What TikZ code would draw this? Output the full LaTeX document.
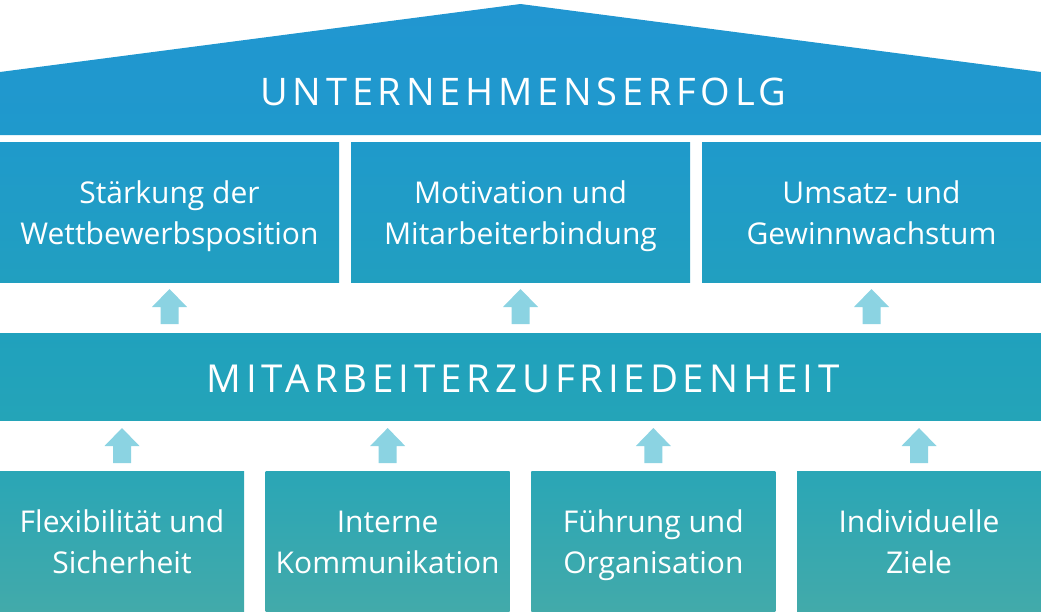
\documentclass[tikz,border=0pt]{standalone}
\usepackage{fontspec}
\setmainfont{Open Sans}
\newfontfamily\sperrfont[LetterSpace=12.5]{Open Sans}
\usetikzlibrary{positioning,calc}

\definecolor{dachoben}{HTML}{2196D1}
\definecolor{dachunten}{HTML}{1F99CC}
\definecolor{zieloben}{HTML}{1F9ACB}
\definecolor{zielunten}{HTML}{219FC0}
\definecolor{bandoben}{HTML}{20A1BD}
\definecolor{bandunten}{HTML}{24A4B8}
\definecolor{basisoben}{HTML}{2AA6B6}
\definecolor{basisunten}{HTML}{42AAAA}
\definecolor{pfeilfarbe}{HTML}{8BD3E2}

% zwei Zeilen, erste Grundlinie 8.5pt ueber der Mitte
\newcommand\zeilen[2]{\raisebox{0pt}[0pt][17pt]{\begin{tabular}[t]{@{}c@{}}#1\\#2\end{tabular}}}

\tikzset{
  kasten/.style={inner sep=0pt, outer sep=0pt, text=white,
    font=\fontsize{30}{41}\selectfont},
  ziel/.style={kasten, minimum width=339, minimum height=140,
    top color=zieloben, bottom color=zielunten},
  basis/.style={kasten, minimum width=244, minimum height=140,
    top color=basisoben, bottom color=basisunten},
  pfeil/.style={fill=pfeilfarbe}
}

\begin{document}
\begin{tikzpicture}[x=1pt,y=-1pt]
    \useasboundingbox (0,0) rectangle (1041,611);
    % Dach
    \shade[top color=dachoben, bottom color=dachunten] (0,72) -- (520.5,4) -- (1041,72) -- (1041,135) -- (0,135) -- cycle;
    \node[text=white, font=\fontsize{38}{38}\sperrfont] (erfolg) at (523.5,92) {UNTERNEHMENSERFOLG};
    % Ziele
    \node[ziel] (staerkung) at (169.5,212) {\zeilen{Stärkung der}{Wettbewerbsposition}};
    \node[ziel, right=12 of staerkung] (motivation) {\zeilen{Motivation und}{Mitarbeiterbindung}};
    \node[ziel, right=12 of motivation] (umsatz) {\zeilen{Umsatz- und}{Gewinnwachstum}};
    % Band
    \node[minimum width=1041, minimum height=87, inner sep=0pt, outer sep=0pt,
        top color=bandoben, bottom color=bandunten] (zufriedenheit) at (520.5,376.5) {};
    \node[text=white, font=\fontsize{38.5}{38.5}\sperrfont] (zufriedenheitstext) at (523,379) {MITARBEITERZUFRIEDENHEIT};
    % Basis
    \node[basis] (flex) at (122,541) {\zeilen{Flexibilität und}{Sicherheit}};
    \node[basis, right=21.67 of flex] (komm) {\zeilen{Interne}{Kommunikation}};
    \node[basis, right=21.67 of komm] (fuehrung) {\zeilen{Führung und}{Organisation}};
    \node[basis, right=21.67 of fuehrung] (individuell) {\zeilen{Individuelle}{Ziele}};
    % Pfeile
    \foreach \n in {flex,komm,fuehrung,individuell}
        \fill[pfeil] ([xshift=-9,yshift=8]\n.north) -- ++(0,-17) -- ++(-8.5,0) -- ++(17.5,-18)
            -- ++(17.5,18) -- ++(-8.5,0) -- ++(0,17) -- cycle;
    \foreach \n in {staerkung,motivation,umsatz}
        \fill[pfeil] ([xshift=-9,yshift=-42]\n.south) -- ++(0,-17) -- ++(-8.5,0) -- ++(17.5,-18)
            -- ++(17.5,18) -- ++(-8.5,0) -- ++(0,17) -- cycle;
\end{tikzpicture}
\end{document}
